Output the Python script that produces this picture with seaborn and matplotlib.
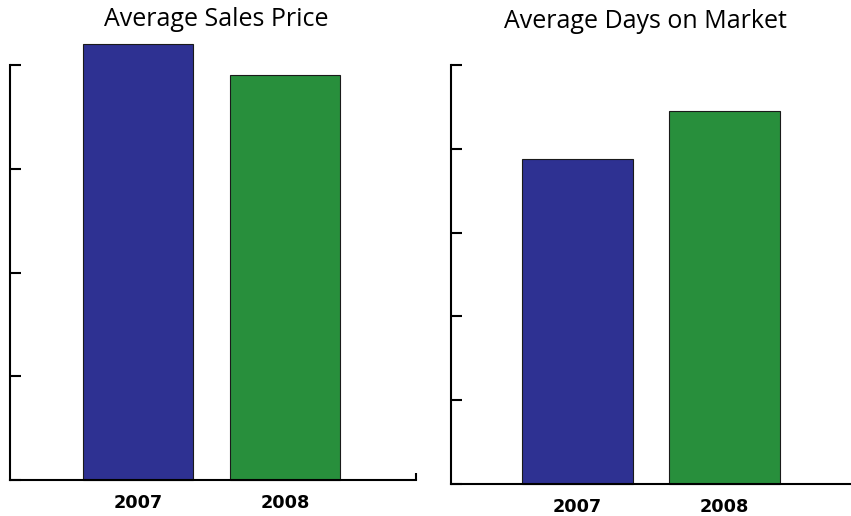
import seaborn as sns
import matplotlib
matplotlib.use('Agg')
import matplotlib.pyplot as plt
import pandas as pd

sns.set_style('white')
plt.rcParams['font.family'] = ['Open Sans', 'DejaVu Sans']
plt.rcParams['text.color'] = 'black'
plt.rcParams['xtick.color'] = 'black'

anos = ['2007', '2008']
cores = ['#2E3192', '#288F3C']

# preço médio de venda (em dólares) e dias médios no mercado
preco_medio = [210500, 195500]
dias_mercado = [77.6, 89.0]

df_preco = pd.DataFrame({'ano': anos, 'valor': preco_medio})
df_dias = pd.DataFrame({'ano': anos, 'valor': dias_mercado})

W, H = 851, 516
fig = plt.figure(figsize=(W / 100, H / 100), dpi=100)


def painel(rect, df, titulo, passo, n_ticks, topo, xlim, tick_final, titulo_x, titulo_y):
    x0, y0, x1, y1 = rect
    ax = fig.add_axes([x0 / W, (H - y0) / H, (x1 - x0) / W, (y0 - y1) / H])
    sns.barplot(data=df, x='ano', y='valor', hue='ano', palette=cores,
                width=0.75, edgecolor='#1a1a1a', linewidth=0.8,
                saturation=1, legend=False, ax=ax)
    ax.set_ylim(0, topo)
    ax.set_xlim(*xlim)
    ax.set_yticks([passo * i for i in range(n_ticks + 1)])
    ax.set_yticklabels([])
    ax.tick_params(axis='y', direction='in', length=8, width=1.5, color='black', left=True)
    ax.tick_params(axis='x', length=0, pad=10)
    for lbl in ax.get_xticklabels():
        lbl.set_fontweight('bold')
        lbl.set_fontsize(12.7)
        lbl.set_family('DejaVu Sans')
        lbl.set_color('black')
    if tick_final:
        ax.set_xticks([xlim[1]], minor=True)
        ax.tick_params(axis='x', which='minor', direction='in', length=5,
                       width=1.5, color='black', bottom=True)
    for lado in ['top', 'right']:
        ax.spines[lado].set_visible(False)
    ax.spines['left'].set_bounds(0, passo * n_ticks)
    for lado in ['left', 'bottom']:
        ax.spines[lado].set_color('black')
        ax.spines[lado].set_linewidth(1.5)
    for p in ax.patches:
        p.set_clip_on(False)
    ax.set_xlabel('')
    ax.set_ylabel('')
    fig.text(titulo_x / W, 1 - titulo_y / H, titulo, ha='center',
             va='baseline', fontsize=18)
    return ax


painel((10, 480, 416, 24), df_preco, 'Average Sales Price', 50000, 4,
       50000 * 4.4, (-0.871, 1.891), True, 216, 26)
painel((451, 484, 851, 40), df_dias, 'Average Days on Market', 20, 5,
       20 * 5.3, (-0.861, 1.86), False, 645, 28)

plt.savefig('out.png', dpi=100)
plt.close()
